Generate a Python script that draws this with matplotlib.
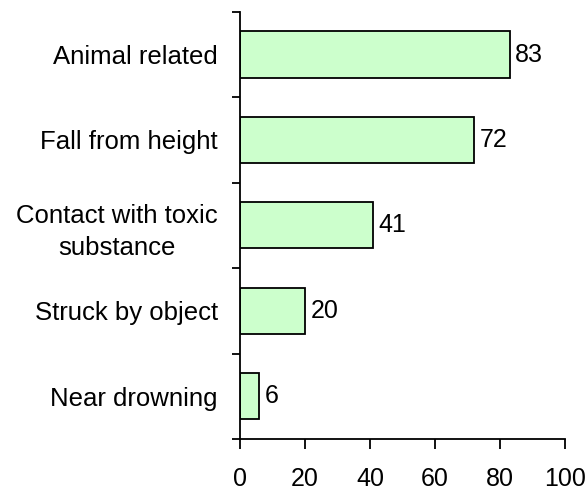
import matplotlib
matplotlib.use("Agg")
import matplotlib.pyplot as plt
import numpy as np

categories = ["Animal related", "Fall from height", "Contact with toxic\nsubstance",
              "Struck by object", "Near drowning"]
counts = [83, 72, 41, 20, 6]
xticks = [0, 20, 40, 60, 80, 100]

plt.rcParams["font.family"] = ["Liberation Sans", "DejaVu Sans"]

fig = plt.figure(figsize=(5.88, 4.91), dpi=100)
ax = fig.add_axes([0.408, 0.106, 0.553, 0.870])

pos = np.arange(len(categories))[::-1]  # first category on top
ax.barh(pos, counts, height=0.54, color="#CCFFCC", edgecolor="black", linewidth=1.3)

for y, v in zip(pos, counts):
    ax.annotate(str(v), (v, y), xytext=(4, 0), textcoords="offset points",
                va="center", ha="left", fontsize=18)

ax.set_xlim(0, 100)
ax.set_ylim(-0.5, len(categories) - 0.5)
ax.set_xticks(xticks)
ax.set_yticks(pos)
ax.set_yticklabels(categories, ha="right", multialignment="center",
                   fontsize=18.5, linespacing=1.42)
ax.set_yticks(np.arange(len(categories) + 1) - 0.5, minor=True)

ax.tick_params(axis="y", which="major", length=0, pad=16)
ax.tick_params(axis="y", which="minor", length=6, width=1.3)
ax.tick_params(axis="x", length=7, width=1.3, pad=13, labelsize=18)

for side in ("top", "right"):
    ax.spines[side].set_visible(False)
for side in ("left", "bottom"):
    ax.spines[side].set_linewidth(1.3)

fig.savefig("out.png", dpi=100)
